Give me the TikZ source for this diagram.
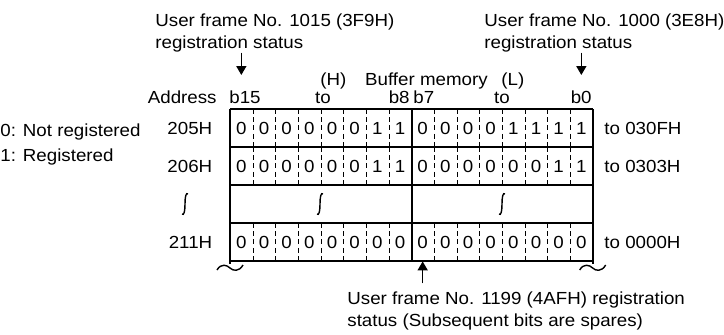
\documentclass[tikz,border=0pt]{standalone}
\usepackage{fontspec}
\setmainfont{Liberation Sans}[FakeStretch=1.07]
\usetikzlibrary{arrows.meta, positioning}

\begin{document}
\begin{tikzpicture}[
    x=0.5pt, y=-0.5pt,
    every node/.style={inner sep=0pt, font=\fontsize{8.75}{11}\selectfont},
    bit/.style={minimum width=11.333pt, minimum height=19pt},
    note/.style={align=left, anchor=west},
    rowline/.style={line width=1.1pt},
    cellsep/.style={line width=0.5pt, dash pattern=on 2.5pt off 1.7pt},
    squiggle/.style={line width=0.7pt},
    arrow/.style={-{Triangle[length=4.5pt, width=5pt]}, line width=0.8pt}
]
\useasboundingbox (0,0) rectangle (724,334);

\node[note] (frameH) at (155,33) {User frame No. 1015 (3F9H)\\registration status};
\node[note] (frameL) at (484,33) {User frame No. 1000 (3E8H)\\registration status};

\node[anchor=base west] (high) at (320,85) {(H)};
\node[base right=9pt of high] (bufmem) {Buffer memory};
\node[base right=6.5pt of bufmem] (low) {(L)};

\node[anchor=base east] (addr) at (217,103) {Address};
\node[anchor=base west] (msb) at (229,103) {b15};
\node[anchor=base] (tohigh) at (323,103) {to};
\node[anchor=base east] (b8) at (410,103) {b8};
\node[anchor=base west] (b7) at (413,103) {b7};
\node[anchor=base] (tolow) at (502,103) {to};
\node[anchor=base east] (lsb) at (592,103) {b0};

\node[note] (legend) at (0,144) {0: Not registered\\[1.5pt]1: Registered};

\foreach \row/\yc/\bits in {1/128/{0,0,0,0,0,0,1,1,0,0,0,0,1,1,1,1},
                            2/166/{0,0,0,0,0,0,1,1,0,0,0,0,0,0,1,1},
                            4/242/{0,0,0,0,0,0,0,0,0,0,0,0,0,0,0,0}}
  \foreach \b [count=\c] in \bits
    \node[bit] (bit-\row-\c) at ({230+(\c-0.5)*22.667},\yc) {\b};

\node[left=8.5pt of bit-1-1] (a205) {205H};
\node[left=8.5pt of bit-2-1] (a206) {206H};
\node[left=8.5pt of bit-4-1] (a211) {211H};
\node[right=5.5pt of bit-1-16] (e205) {to 030FH};
\node[right=5.5pt of bit-2-16] (e206) {to 0303H};
\node[right=5.5pt of bit-4-16] (e211) {to 0000H};

\foreach \r in {1,2,4}
  \foreach \c in {1,2,3,4,5,6,7,9,10,11,12,13,14,15}
    \draw[cellsep] (bit-\r-\c.north east) -- (bit-\r-\c.south east);

\foreach \y in {109,147,185,223,261}
  \draw[rowline] (230,\y) -- (592.67,\y);
\draw[rowline] (230,109) -- (230,264);
\draw[rowline] (592.67,109) -- (592.67,264);
\draw[rowline] (bit-1-8.north east) -- (bit-4-8.south east);

\foreach \x in {185,320,502}
  \draw[squiggle] (\x+3,194) .. controls (\x+1,192) and (\x,197) .. (\x,204)
    .. controls (\x,211) and (\x-1,216) .. (\x-3,214);
\foreach \x in {230,592.67}
  \draw[squiggle] (\x-13,270) .. controls (\x-9,263) and (\x-3,265) .. (\x,268)
    .. controls (\x+3,271) and (\x+9,272) .. (\x+13,265);

\node[note] (spare) at (347,311) {User frame No. 1199 (4AFH) registration\\status (Subsequent bits are spares)};

\draw[arrow] (frameH.south -| bit-1-1) -- (bit-1-1 |- 0,75);
\draw[arrow] (frameL.south -| bit-1-16) -- (bit-1-16 |- 0,75);
\draw[arrow] ([yshift=4pt]spare.north -| bit-4-9) -- (bit-4-9.south);
\end{tikzpicture}
\end{document}
